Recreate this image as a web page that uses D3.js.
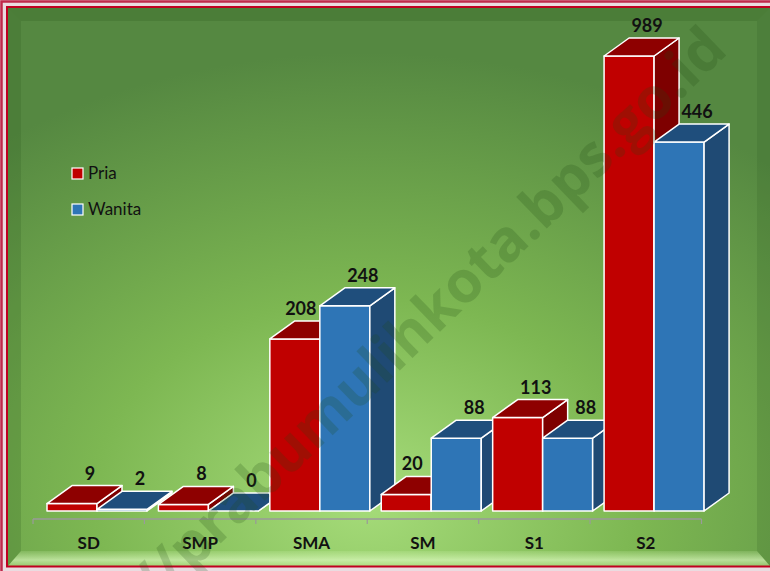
<!DOCTYPE html>
<html>
<head>
<meta charset="utf-8">
<script src="https://cdn.jsdelivr.net/npm/d3@7"></script>
<style>
  body { margin: 0; background: #fff; }
  svg { display: block; }
</style>
</head>
<body>
<div id="chart"></div>
<script>
const W = 770, H = 571;

const categories = ["SD", "SMP", "SMA", "SM", "S1", "S2"];
const series = ["Pria", "Wanita"];
const pria = [9, 8, 208, 20, 113, 989];
const wanita = [2, 0, 248, 88, 88, 446];
const yMax = 550; // axis max set below the S2 value, so that bar is cut

const colors = {
    Pria:   {front: "#c00000", top: "#8e0000", side: "#7e0000"},
    Wanita: {front: "#2e75b6", top: "#1f4e7c", side: "#1f4a74"}
};
const depth = {dx: 25, dy: -18};

const svg = d3.select("#chart").append("svg")
    .attr("width", W).attr("height", H);

const defs = svg.append("defs");
const bg = defs.append("radialGradient").attr("id", "bg")
    .attr("cx", 0.47).attr("cy", 0.88).attr("r", 0.8);
bg.append("stop").attr("offset", 0).attr("stop-color", "#a6dc7a");
bg.append("stop").attr("offset", 0.45).attr("stop-color", "#7db752");
bg.append("stop").attr("offset", 1).attr("stop-color", "#558841");

const bot = defs.append("linearGradient").attr("id", "bot")
    .attr("x1", 0).attr("y1", 0).attr("x2", 0).attr("y2", 1);
bot.append("stop").attr("offset", 0).attr("stop-color", "#d8f8b8").attr("stop-opacity", 0.15);
bot.append("stop").attr("offset", 0.6).attr("stop-color", "#e0fcc4").attr("stop-opacity", 0.65);
bot.append("stop").attr("offset", 1).attr("stop-color", "#c8ee9c").attr("stop-opacity", 0.45);

// frame
svg.append("rect").attr("x", 0).attr("y", 0).attr("width", W).attr("height", H)
    .attr("fill", "#eadbe0");
svg.append("rect").attr("x", 1.5).attr("y", 1.5).attr("width", W + 10).attr("height", H + 10)
    .attr("fill", "none").attr("stroke", "#c0284a").attr("stroke-width", 2.5);

const L = 8, T = 8, R = W, B = 566;
svg.append("rect").attr("x", L).attr("y", T).attr("width", R - L).attr("height", B - T)
    .attr("fill", "url(#bg)");

// bevel edges
const bw = 13, bb = 15;
svg.append("polygon")
    .attr("points", [[L, T], [R, T], [R - bw, T + bw], [L + bw, T + bw]].join(" "))
    .attr("fill", "#2f5a20").attr("opacity", 0.25);
svg.append("polygon")
    .attr("points", [[L, T], [L + bw, T + bw], [L + bw, B - bb], [L, B]].join(" "))
    .attr("fill", "#2f5a20").attr("opacity", 0.22);
svg.append("polygon")
    .attr("points", [[R, T], [R - bw, T + bw], [R - bw, B - bb], [R, B]].join(" "))
    .attr("fill", "#2f5a20").attr("opacity", 0.18);
svg.append("polygon")
    .attr("points", [[L, B], [L + bw, B - bb], [R - bw, B - bb], [R, B]].join(" "))
    .attr("fill", "url(#bot)");

svg.append("rect").attr("x", 7).attr("y", 7).attr("width", W + 10).attr("height", B - 6.5)
    .attr("fill", "none").attr("stroke", "#c00020").attr("stroke-width", 2);

// scales
const x = d3.scaleBand().domain(categories).range([33, 701.5]);
const xs = d3.scaleBand().domain(series).range([14, 114]);
const y = d3.scaleLinear().domain([0, yMax]).range([511, 56]).clamp(true);

// axis
const axis = svg.append("g").attr("transform", "translate(0,519)");
axis.append("line").attr("x1", x.range()[0]).attr("x2", x.range()[1])
    .attr("stroke", "#9a9a9a").attr("stroke-width", 1.5);
axis.selectAll(".tick").data(d3.range(categories.length + 1)).join("line")
    .attr("x1", i => x.range()[0] + i * x.step())
    .attr("x2", i => x.range()[0] + i * x.step())
    .attr("y1", 0).attr("y2", 5)
    .attr("stroke", "#9a9a9a").attr("stroke-width", 1.2);
axis.selectAll(".cat").data(categories).join("text")
    .attr("x", d => x(d) + x.bandwidth() / 2)
    .attr("y", 30)
    .attr("text-anchor", "middle")
    .style("font-family", "Lato, 'Open Sans', sans-serif")
    .style("font-weight", 700).style("font-size", "17px")
    .attr("fill", "#111")
    .text(d => d);

// bars
const rows = [];
categories.forEach((c, i) => {
    rows.push({cat: c, s: "Pria", v: pria[i], other: wanita[i]});
    rows.push({cat: c, s: "Wanita", v: wanita[i], other: pria[i]});
});

const bars = svg.append("g").selectAll("g").data(rows).join("g");
const w = xs.bandwidth();
const base = y(0);
const px = d => x(d.cat) + xs(d.s);

bars.append("rect")
    .attr("x", px).attr("y", d => y(d.v))
    .attr("width", w).attr("height", d => base - y(d.v))
    .attr("fill", d => colors[d.s].front);
bars.append("polygon")
    .attr("points", d => {
        const x0 = px(d), t = y(d.v);
        return [[x0 + w, t], [x0 + w + depth.dx, t + depth.dy],
                [x0 + w + depth.dx, base + depth.dy], [x0 + w, base]].join(" ");
    })
    .attr("fill", d => colors[d.s].side);
bars.append("polygon")
    .attr("points", d => {
        const x0 = px(d), t = y(d.v);
        return [[x0, t], [x0 + depth.dx, t + depth.dy],
                [x0 + w + depth.dx, t + depth.dy], [x0 + w, t]].join(" ");
    })
    .attr("fill", d => colors[d.s].top);
bars.selectAll("rect, polygon")
    .attr("stroke", "#fff").attr("stroke-width", 1.5).attr("stroke-linejoin", "round");

// value labels
svg.append("g").selectAll("text").data(rows).join("text")
    .attr("x", d => px(d) + w / 2 + (d.s === "Pria" && d.other > d.v ? 6 : 18))
    .attr("y", d => y(d.v) + depth.dy - 6)
    .attr("text-anchor", "middle")
    .style("font-family", "Lato, 'Open Sans', sans-serif")
    .style("font-weight", 700).style("font-size", "18px")
    .attr("fill", "#111")
    .text(d => d.v);

// legend
const legend = svg.append("g").selectAll("g").data(series).join("g")
    .attr("transform", (d, i) => `translate(72,${168 + i * 36})`);
legend.append("rect").attr("width", 11).attr("height", 11)
    .attr("fill", d => colors[d].front).attr("stroke", "#fff").attr("stroke-width", 1.2);
legend.append("text").attr("x", 16).attr("y", 11)
    .style("font-family", "Lato, 'Open Sans', sans-serif")
    .style("font-size", "17px").attr("fill", "#111")
    .text(d => d);

// watermark
svg.append("text")
    .attr("transform", "translate(392,378) rotate(-44)")
    .attr("text-anchor", "middle")
    .style("font-family", "'Open Sans', sans-serif")
    .style("font-weight", 700).style("font-size", "58px")
    .attr("fill", "#1f4a12").attr("opacity", 0.2)
    .text("http://prabumulihkota.bps.go.id");
</script>
</body>
</html>
